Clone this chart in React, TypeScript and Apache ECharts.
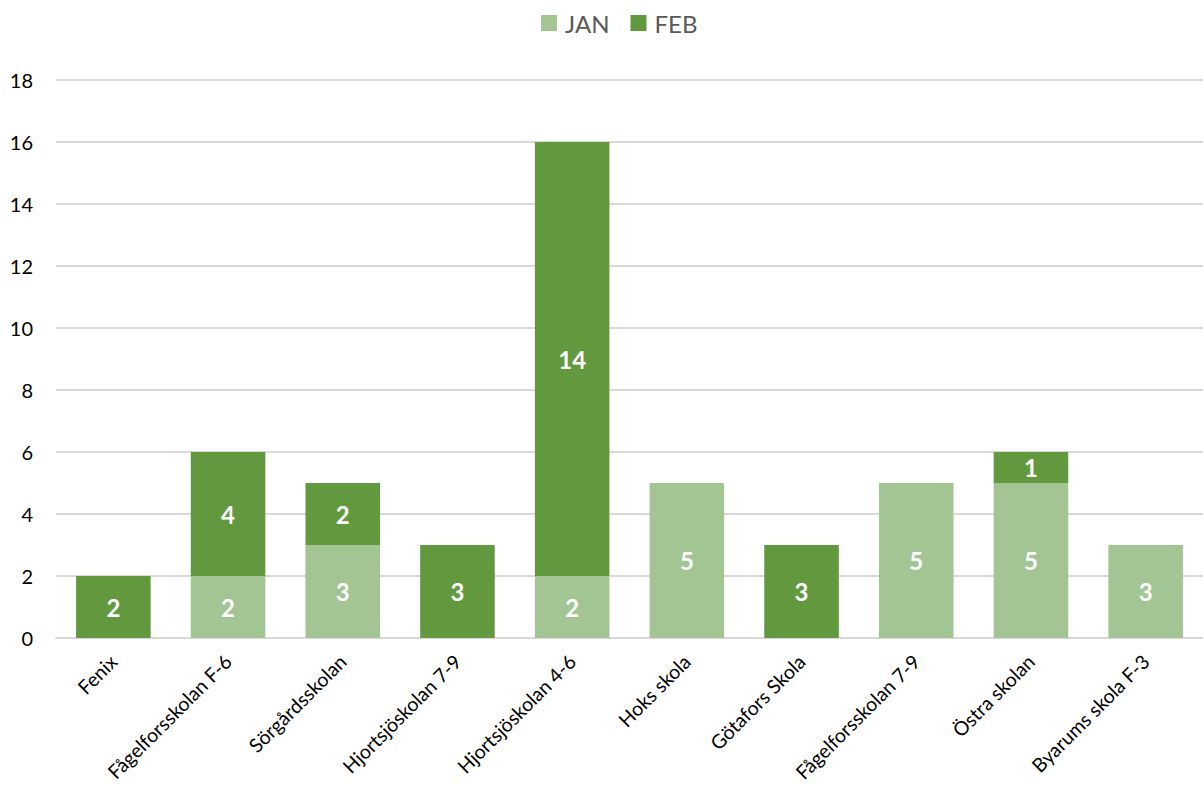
import React, { useEffect, useRef } from "react";
import * as echarts from "echarts";

const categories = [
  "Fenix",
  "Fågelforsskolan F-6",
  "Sörgårdsskolan",
  "Hjortsjöskolan 7-9",
  "Hjortsjöskolan 4-6",
  "Hoks skola",
  "Götafors Skola",
  "Fågelforsskolan 7-9",
  "Östra skolan",
  "Byarums skola F-3",
];
const janValues: (number | null)[] = [null, 2, 3, null, 2, 5, null, 5, 5, 3];
const febValues: (number | null)[] = [2, 4, 2, 3, 14, null, 3, null, 1, null];
const seriesNames = ["JAN", "FEB"];
const colors = ["#a2c593", "#62993e"];

const FONT = "Lato, 'Noto Sans', sans-serif";

export default function App() {
  const ref = useRef<HTMLDivElement>(null);
  useEffect(() => {
    if (!ref.current) return;
    const chart = echarts.init(ref.current, null, { renderer: "svg" });
    const label = {
      show: true,
      position: "inside",
      color: "#ffffff",
      fontFamily: FONT,
      fontWeight: "bold",
      fontSize: 24,
    };
    chart.setOption({
      animation: false,
      textStyle: { fontFamily: FONT },
      legend: {
        top: 11,
        left: 541,
        padding: 0,
        icon: "rect",
        itemWidth: 16,
        itemHeight: 16,
        itemGap: 21,
        textStyle: { color: "#595959", fontSize: 24, fontFamily: FONT, padding: [0, 0, 0, 3] },
        data: seriesNames,
      },
      grid: { left: 56, right: 0, top: 80, bottom: 148, containLabel: false },
      xAxis: {
        type: "category",
        data: categories,
        axisLine: { lineStyle: { color: "#d9d9d9", width: 2 } },
        axisTick: { show: false },
        axisLabel: {
          rotate: 45,
          interval: 0,
          margin: 20,
          color: "#000000",
          fontSize: 19.5,
          fontFamily: FONT,
        },
      },
      yAxis: {
        type: "value",
        min: 0,
        max: 18,
        interval: 2,
        axisLine: { show: false },
        axisTick: { show: false },
        axisLabel: { color: "#000000", fontSize: 20, margin: 23, fontFamily: FONT },
        splitLine: { lineStyle: { color: "#d9d9d9", width: 2 } },
      },
      series: [
        {
          name: seriesNames[0],
          type: "bar",
          stack: "total",
          data: janValues,
          barWidth: "65%",
          itemStyle: { color: colors[0] },
          label,
        },
        {
          name: seriesNames[1],
          type: "bar",
          stack: "total",
          data: febValues,
          barWidth: "65%",
          itemStyle: { color: colors[1] },
          label,
        },
      ],
    });
    return () => chart.dispose();
  }, []);
  return (
    <div
      ref={ref}
      style={{ position: "absolute", left: 0, top: 0, width: 1203, height: 786 }}
    />
  );
}
